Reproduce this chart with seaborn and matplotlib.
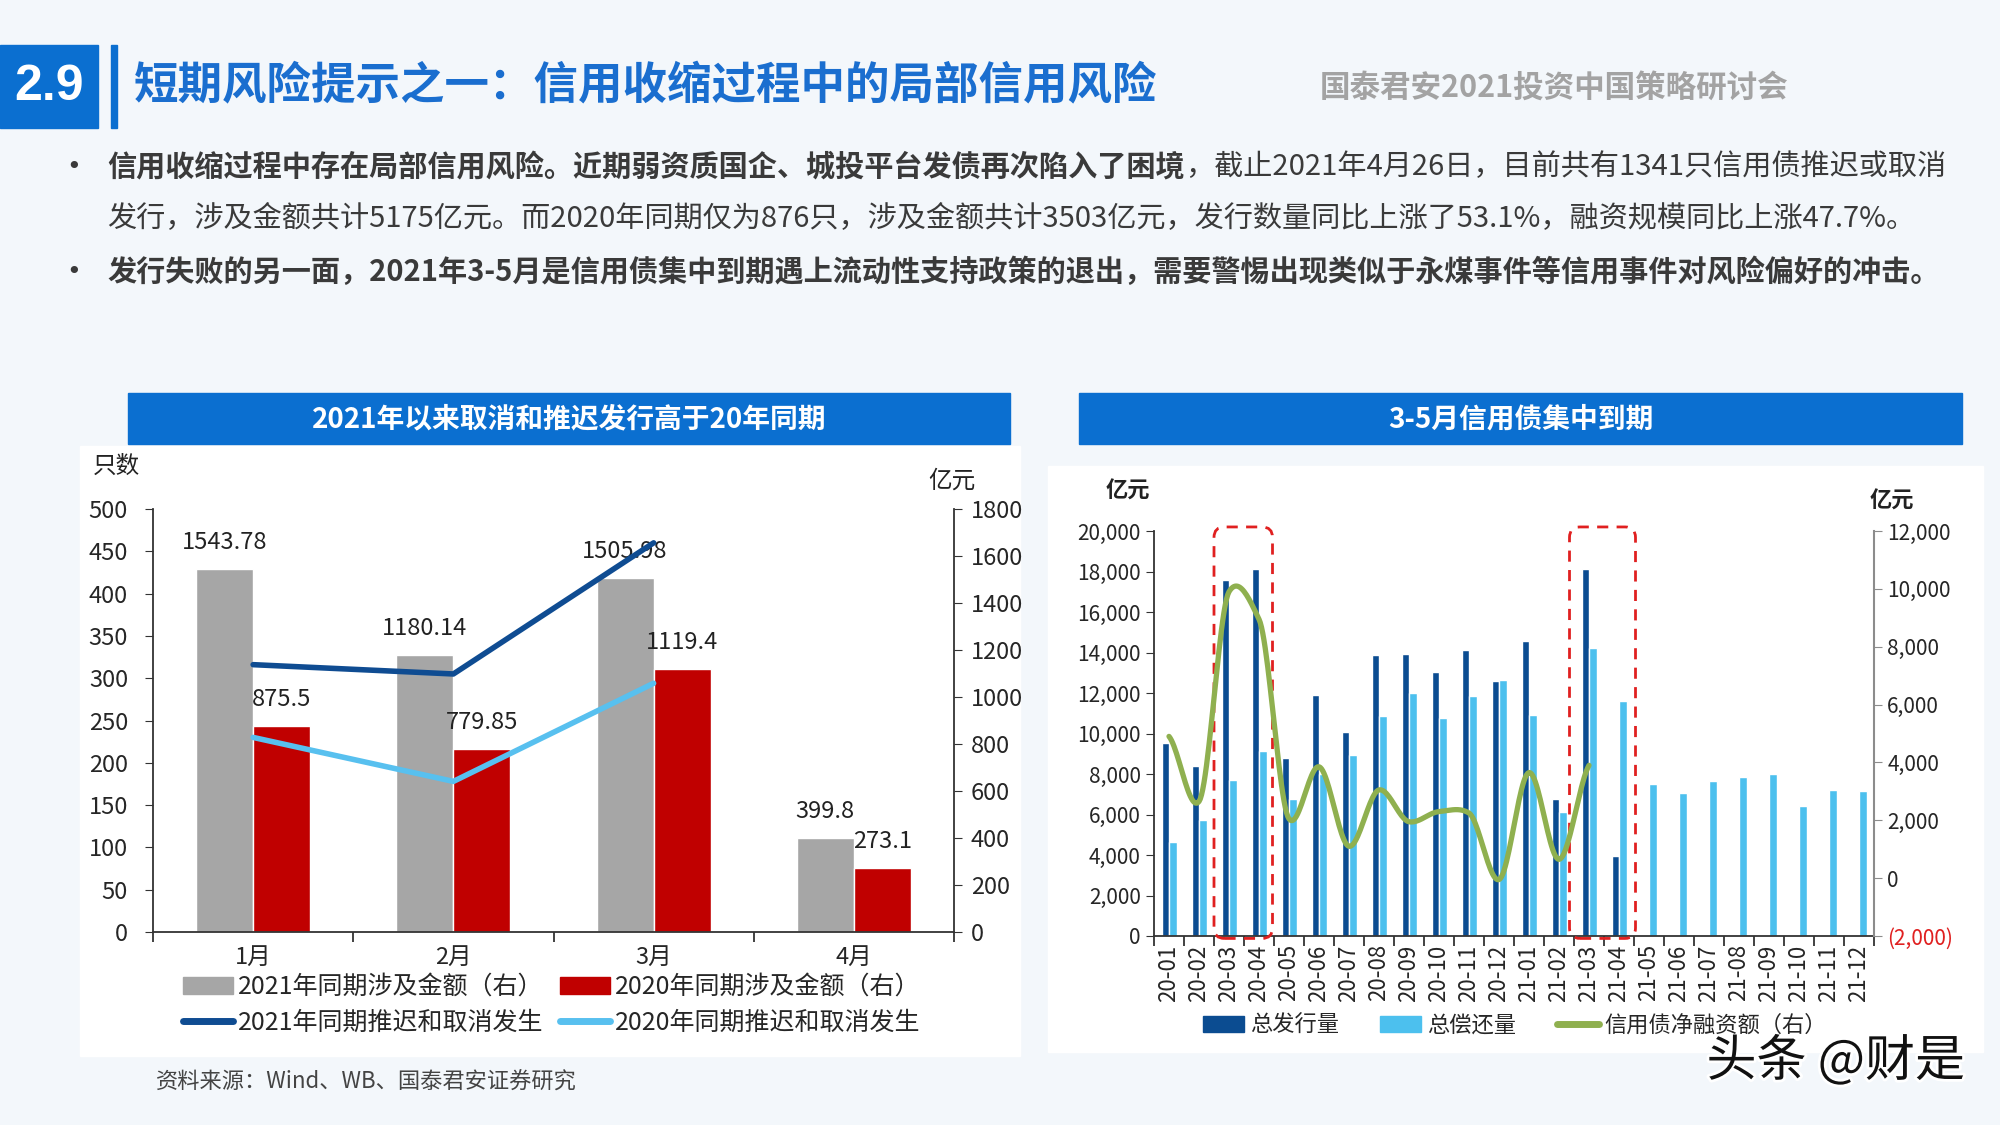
import numpy as np
import pandas as pd
import matplotlib
matplotlib.use('Agg')
import matplotlib.pyplot as plt
import seaborn as sns
from matplotlib.patches import Rectangle, FancyBboxPatch, Patch
from matplotlib.lines import Line2D
import matplotlib.patheffects as pe

# ---- left chart data ----
months = ['1月', '2月', '3月', '4月']
amt_2021 = [1543.78, 1180.14, 1505.98, 399.8]
amt_2020 = [875.5, 779.85, 1119.4, 273.1]
cnt_2021 = [316, 305, 460]
cnt_2020 = [230, 178, 294]

# ---- right chart data ----
periods = ['20-01', '20-02', '20-03', '20-04', '20-05', '20-06', '20-07', '20-08',
           '20-09', '20-10', '20-11', '20-12', '21-01', '21-02', '21-03', '21-04',
           '21-05', '21-06', '21-07', '21-08', '21-09', '21-10', '21-11', '21-12']
issue = [9550, 8400, 17600, 18100, 8800, 11900, 10050, 13900,
         13950, 13050, 14100, 12600, 14550, 6750, 18100, 3950]
repay = [4650, 5750, 7700, 9150, 6750, 8000, 8950, 10850,
         12000, 10750, 11850, 12650, 10900, 6100, 14200, 11600,
         7500, 7050, 7650, 7850, 8000, 6400, 7200, 7150]
net = [4900, 2650, 9900, 8950, 2050, 3850, 1100, 3050,
       1950, 2300, 2250, -50, 3650, 650, 3900]

W, H = 2000, 1125
def fx(p): return p / W
def fy(p): return 1 - p / H

sns.set_style('ticks')
plt.rcParams['font.family'] = ['Noto Sans CJK SC', 'DejaVu Sans']
plt.rcParams['axes.unicode_minus'] = False

BLUE = '#0b6fd0'
fig = plt.figure(figsize=(20, 11.25), dpi=100, facecolor='#f3f7fb')

# background panels
fig.add_artist(Rectangle((fx(80), fy(1056)), fx(940), 610 / H, transform=fig.transFigure,
                         color='white', zorder=0))
fig.add_artist(Rectangle((fx(1048), fy(1052)), fx(935), 586 / H, transform=fig.transFigure,
                         color='white', zorder=0))

# ---- header ----
fig.add_artist(Rectangle((0, fy(128)), fx(98), 83 / H, transform=fig.transFigure, color=BLUE))
fig.add_artist(Rectangle((fx(111), fy(128)), fx(6), 83 / H, transform=fig.transFigure, color=BLUE))
fig.text(fx(49), fy(87), '2.9', color='white', fontsize=36, fontweight='bold',
         family='Liberation Sans', ha='center', va='center')
fig.text(fx(134), fy(86), '短期风险提示之一：信用收缩过程中的局部信用风险', color='#1a6ecf',
         fontsize=32, fontweight='bold', va='center')
fig.text(fx(1320), fy(88), '国泰君安2021投资中国策略研讨会', color='#a3a3a3',
         fontsize=22, fontweight='bold', va='center')

# ---- bullets ----
renderer = fig.canvas.get_renderer()
TXT = '#3a3a3a'
BFS = 21
for yy in (167, 272):
    fig.text(fx(74), fy(yy), '•', fontsize=18, color=TXT, va='center', ha='center',
             family='DejaVu Sans')
t1 = fig.text(fx(107), fy(167), '信用收缩过程中存在局部信用风险。近期弱资质国企、城投平台发债再次陷入了困境',
              fontsize=BFS, fontweight='bold', color=TXT, va='center')
bb = t1.get_window_extent(renderer=renderer)
fig.text(bb.x1 / W, fy(167), '，截止2021年4月26日，目前共有1341只信用债推迟或取消',
         fontsize=BFS, color=TXT, va='center')
fig.text(fx(107), fy(219), '发行，涉及金额共计5175亿元。而2020年同期仅为876只，涉及金额共计3503亿元，'
         '发行数量同比上涨了53.1%，融资规模同比上涨47.7%。', fontsize=BFS, color=TXT, va='center')
fig.text(fx(107), fy(272), '发行失败的另一面，2021年3-5月是信用债集中到期遇上流动性支持政策的退出，'
         '需要警惕出现类似于永煤事件等信用事件对风险偏好的冲击。', fontsize=BFS, fontweight='bold',
         color=TXT, va='center')

# ---- chart title bars ----
for x0, x1, title in [(128, 1010, '2021年以来取消和推迟发行高于20年同期'),
                      (1079, 1962, '3-5月信用债集中到期')]:
    fig.add_artist(Rectangle((fx(x0), fy(444)), fx(x1 - x0), 51 / H,
                             transform=fig.transFigure, color=BLUE))
    fig.text(fx((x0 + x1) / 2), fy(419), title, color='white', fontsize=20,
             fontweight='bold', ha='center', va='center')

# ================= left chart =================
ax1 = fig.add_axes([fx(153), fy(932), fx(954 - 153), (932 - 509) / H])
s1, s2 = '2021年同期涉及金额（右）', '2020年同期涉及金额（右）'
df_left = pd.DataFrame({'month': months * 2,
                        'amount': amt_2021 + amt_2020,
                        'series': [s1] * 4 + [s2] * 4})
sns.barplot(data=df_left, x='month', y='amount', hue='series', hue_order=[s1, s2],
            palette=['#a6a6a6', '#c00000'], width=0.57, saturation=1, errorbar=None,
            legend=False, ax=ax1)
ax2 = ax1.twinx()
ax1.yaxis.tick_right()
ax2.yaxis.tick_left()
ax1.set_ylim(0, 1800)
ax1.set_yticks(range(0, 1801, 200))
ax2.set_ylim(0, 500)
ax2.set_yticks(range(0, 501, 50))
ax1.set_xlim(-0.5, 3.5)
ax1.set_xlabel('')
ax1.set_ylabel('')

for cont in ax1.containers:
    for bar in cont:
        h = bar.get_height()
        ax1.annotate(f'{h:g}', (bar.get_x() + bar.get_width() / 2, h), xytext=(0, 19),
                     textcoords='offset points', ha='center', va='center', fontsize=17,
                     color='#222')

sns.lineplot(x=list(range(len(cnt_2021))), y=cnt_2021, color='#0f4c92', lw=4, ax=ax2)
sns.lineplot(x=list(range(len(cnt_2020))), y=cnt_2020, color='#58c0ef', lw=4, ax=ax2)

for sp in ax2.spines.values():
    sp.set_visible(False)
ax1.spines['top'].set_visible(False)
for s in ('left', 'right', 'bottom'):
    ax1.spines[s].set_color('#333')
    ax1.spines[s].set_linewidth(1.3)
ax1.tick_params(axis='y', labelsize=17, length=6, color='#333', pad=6)
ax2.tick_params(axis='y', labelsize=17, length=6, color='#333', pad=12)
ax1.set_xticks(range(4))
ax1.set_xticklabels(months)
ax1.set_xticks(np.arange(-0.5, 4, 1), minor=True)
ax1.tick_params(axis='x', which='major', length=0, labelsize=17, pad=10)
ax1.tick_params(axis='x', which='minor', length=7, color='#333', width=1.3)

fig.text(fx(93), fy(466), '只数', fontsize=17, color='#222', va='center')
fig.text(fx(928), fy(481), '亿元', fontsize=17, color='#222', va='center')

hl = [Patch(color='#a6a6a6'), Line2D([0], [0], color='#0f4c92', lw=5),
      Patch(color='#c00000'), Line2D([0], [0], color='#58c0ef', lw=5)]
fig.legend(handles=hl, labels=[s1, '2021年同期推迟和取消发生', s2, '2020年同期推迟和取消发生'],
           ncol=2, loc='center left', bbox_to_anchor=(fx(183), fy(1005)), frameon=False,
           fontsize=18, handlelength=2.0, handletextpad=0.2, columnspacing=0.64,
           labelspacing=0.4, borderpad=0, borderaxespad=0)
fig.text(fx(156), fy(1082), '资料来源：Wind、WB、国泰君安证券研究', fontsize=16,
         color='#444', va='center')

# ================= right chart =================
ax3 = fig.add_axes([fx(1154), fy(936), fx(1874 - 1154), (936 - 531) / H])
df_right = pd.DataFrame({'period': periods[:len(issue)] + periods,
                         'value': issue + repay,
                         'series': ['总发行量'] * len(issue) + ['总偿还量'] * len(repay)})
sns.barplot(data=df_right, x='period', y='value', hue='series', order=periods,
            hue_order=['总发行量', '总偿还量'], palette=['#0b4c91', '#4cc0ee'],
            width=0.5, saturation=1, errorbar=None, legend=False, ax=ax3)
ax3.set_ylim(0, 20000)
ax3.set_yticks(range(0, 20001, 2000))
ax3.set_yticklabels([f'{v:,}' for v in range(0, 20001, 2000)])
ax3.set_xlim(-0.5, len(periods) - 0.5)
ax3.set_xlabel('')
ax3.set_ylabel('')
ax3.set_xticks(range(len(periods)))
ax3.set_xticklabels(periods, rotation=90)
ax3.set_xticks(np.arange(-0.5, len(periods), 1), minor=True)
ax3.tick_params(axis='x', which='major', length=0, labelsize=16, pad=6)
ax3.tick_params(axis='x', which='minor', length=7, color='#333', width=1.3)
ax3.tick_params(axis='y', labelsize=15, length=6, color='#333')
for s in ('top', 'right'):
    ax3.spines[s].set_visible(False)
for s in ('left', 'bottom'):
    ax3.spines[s].set_color('#333')
    ax3.spines[s].set_linewidth(1.3)

ax4 = ax3.twinx()
ax4.set_ylim(-2000, 12000)
rt = list(range(-2000, 12001, 2000))
ax4.set_yticks(rt)
ax4.set_yticklabels([f'({-v:,})' if v < 0 else f'{v:,}' for v in rt])
ax4.get_yticklabels()[0].set_color('#e02020')
ax4.tick_params(axis='y', labelsize=15, length=6, color='#8c8c8c')
for s in ('top', 'left', 'bottom'):
    ax4.spines[s].set_visible(False)
ax4.spines['right'].set_color('#8c8c8c')
ax4.spines['right'].set_linewidth(1.5)


def smooth_curve(xs, ys, n=24, tension=0.55):
    # cubic Hermite with reduced Catmull-Rom tangents (Excel-like smoothed line)
    x = np.asarray(xs, float)
    y = np.asarray(ys, float)
    m = np.zeros_like(y)
    m[1:-1] = tension * (y[2:] - y[:-2]) / 2
    m[0] = tension * (y[1] - y[0])
    m[-1] = tension * (y[-1] - y[-2])
    t = np.linspace(0, 1, n, endpoint=False)
    h00 = 2 * t ** 3 - 3 * t ** 2 + 1
    h10 = t ** 3 - 2 * t ** 2 + t
    h01 = -2 * t ** 3 + 3 * t ** 2
    h11 = t ** 3 - t ** 2
    cx, cy = [], []
    for i in range(len(x) - 1):
        cx.append(x[i] + t * (x[i + 1] - x[i]))
        cy.append(h00 * y[i] + h10 * m[i] + h01 * y[i + 1] + h11 * m[i + 1])
    cx.append([x[-1]])
    cy.append([y[-1]])
    return np.concatenate(cx), np.concatenate(cy)


cx, cy = smooth_curve(range(len(net)), net)
ax4.plot(cx, cy, color='#8fb04f', lw=3.8, solid_capstyle='round')

# highlight boxes
for x0, x1 in [(1.5, 3.45), (13.35, 15.55)]:
    ax3.add_patch(FancyBboxPatch((x0, -120), x1 - x0, 20320,
                                 boxstyle='round,pad=0,rounding_size=0.35',
                                 mutation_aspect=1480, fill=False, ec='#e02020', lw=2,
                                 ls=(0, (4, 3)), clip_on=False, zorder=5))

fig.text(fx(1106), fy(491), '亿元', fontsize=16, fontweight='bold', color='#222', va='center')
fig.text(fx(1870), fy(501), '亿元', fontsize=16, fontweight='bold', color='#222', va='center')

hr = [Patch(color='#0b4c91'), Patch(color='#4cc0ee'), Line2D([0], [0], color='#8fb04f', lw=5)]
fig.legend(handles=hr, labels=['总发行量', '总偿还量', '信用债净融资额（右）'], ncol=3,
           loc='center left', bbox_to_anchor=(fx(1203), fy(1025)), frameon=False,
           fontsize=16, handlelength=1.85, handletextpad=0.27, columnspacing=1.85,
           borderpad=0, borderaxespad=0)

fig.text(fx(1965), fy(1062), '头条 @财是', ha='right', va='center', fontsize=36,
         color='#111', path_effects=[pe.withStroke(linewidth=4, foreground='white')])

fig.savefig('out.png', dpi=100, facecolor=fig.get_facecolor())
